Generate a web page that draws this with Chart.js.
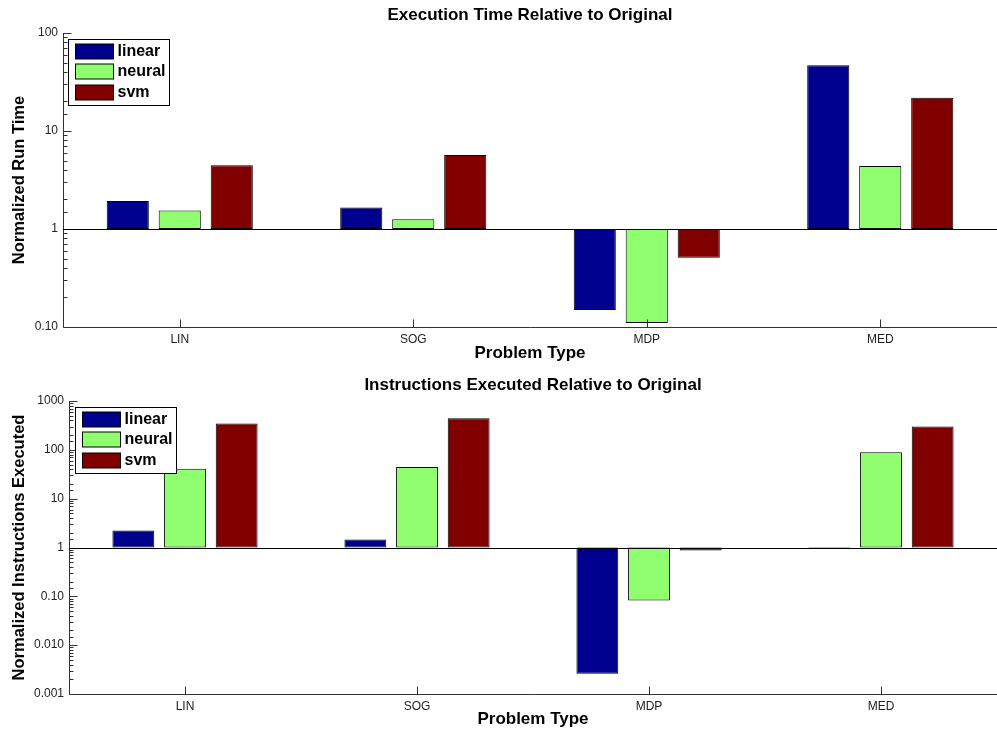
<!DOCTYPE html>
<html>
<head>
<meta charset="utf-8">
<script src="https://cdn.jsdelivr.net/npm/chart.js@4"></script>
<style>
body { margin: 0; background: #fff; }
.pannello { position: absolute; left: 0; width: 997px; height: 370px; }
</style>
</head>
<body>
<div class="pannello" style="top:0"><canvas id="grafico-tempo" width="997" height="370"></canvas></div>
<div class="pannello" style="top:370px"><canvas id="grafico-istruzioni" width="997" height="370"></canvas></div>
<script>
// Categorie e serie
const problemi = ['LIN', 'SOG', 'MDP', 'MED'];
const metodi = ['linear', 'neural', 'svm'];
const colori = ['#00008f', '#8fff70', '#800000'];

// Tempo di esecuzione relativo all'originale
const tempoLinear = [1.93, 1.66, 0.149, 46.8];
const tempoNeural = [1.54, 1.26, 0.11, 4.4];
const tempoSvm = [4.47, 5.69, 0.51, 21.9];

// Istruzioni eseguite relative all'originale
const istrLinear = [2.22, 1.46, 0.0026, 0.98];
const istrNeural = [41, 44.6, 0.082, 89];
const istrSvm = [345, 445, 0.87, 300];

// Tick dell'asse y
const tickTempo = [0.1, 1, 10, 100];
const etichetteTempo = ['0.10', '1', '10', '100'];
const tickIstr = [0.001, 0.01, 0.1, 1, 10, 100, 1000];
const etichetteIstr = ['0.001', '0.010', '0.10', '1', '10', '100', '1000'];

const FONT = '"Liberation Sans", Arial, Helvetica, sans-serif';

// Assi in stile MATLAB: tick verso l'interno, linea di base a 1, legenda nel riquadro
const assiMatlab = {
    id: 'assiMatlab',
    afterDatasetsDraw(chart, args, opz) {
        const { ctx, chartArea: a, scales: { x, y } } = chart;
        ctx.save();
        ctx.lineWidth = 1;
        ctx.strokeStyle = '#333';
        const xl = Math.round(a.left) + 0.5;
        const yb = Math.round(a.bottom) + 0.5;
        ctx.beginPath();
        ctx.moveTo(xl, Math.round(a.top));
        ctx.lineTo(xl, yb);
        ctx.lineTo(a.right, yb);
        y.ticks.forEach(t => {
            const py = Math.round(y.getPixelForValue(t.value)) + 0.5;
            const e = Math.log10(t.value);
            const lung = Math.abs(e - Math.round(e)) < 1e-6 ? 8 : 4;
            ctx.moveTo(xl, py);
            ctx.lineTo(xl + lung, py);
        });
        x.ticks.forEach((t, i) => {
            const px = Math.round(x.getPixelForTick(i)) + 0.5;
            ctx.moveTo(px, yb);
            ctx.lineTo(px, yb - 8);
        });
        ctx.stroke();

        // linea di base
        const y1 = Math.round(y.getPixelForValue(1)) + 0.5;
        ctx.strokeStyle = '#000';
        ctx.beginPath();
        ctx.moveTo(a.left, y1);
        ctx.lineTo(a.right, y1);
        ctx.stroke();

        // legenda
        const bx = Math.round(a.left + opz.dx) + 0.5;
        const by = Math.round(a.top + opz.dy) + 0.5;
        ctx.fillStyle = '#fff';
        ctx.fillRect(bx, by, 101, 66);
        ctx.strokeStyle = '#000';
        ctx.strokeRect(bx, by, 101, 66);
        ctx.font = 'bold 16px ' + FONT;
        ctx.textBaseline = 'middle';
        chart.data.datasets.forEach((d, i) => {
            const sy = by + 4 + i * 20.5;
            ctx.fillStyle = d.backgroundColor;
            ctx.fillRect(bx + 7, Math.round(sy), 38, 15);
            ctx.strokeStyle = '#000';
            ctx.strokeRect(bx + 7, Math.round(sy), 38, 15);
            ctx.fillStyle = '#000';
            ctx.fillText(d.label, bx + 49, sy + 8);
        });
        ctx.restore();
    }
};

function creaGrafico(id, titolo, titoloY, valori, tickValori, tickTesti, opz) {
    new Chart(document.getElementById(id), {
        type: 'bar',
        data: {
            labels: problemi,
            datasets: metodi.map((m, i) => ({
                label: m,
                data: valori[i].map(v => [1, v]),
                backgroundColor: colori[i],
                borderColor: '#000',
                borderWidth: 1,
                borderSkipped: false,
                categoryPercentage: 0.668,
                barPercentage: 0.81
            }))
        },
        options: {
            responsive: false,
            animation: false,
            layout: { padding: 0 },
            plugins: {
                legend: { display: false },
                tooltip: { enabled: false },
                title: {
                    display: true,
                    text: titolo,
                    fullSize: false,
                    color: '#000',
                    font: { family: FONT, size: 17, weight: 'bold' },
                    padding: opz.padTitolo
                },
                assiMatlab: { dx: opz.legX, dy: opz.legY }
            },
            scales: {
                x: {
                    grid: { display: false, drawTicks: false },
                    border: { display: false },
                    ticks: { color: '#222', font: { family: FONT, size: 12 }, padding: 5, maxRotation: 0 },
                    title: {
                        display: true,
                        text: 'Problem Type',
                        color: '#000',
                        font: { family: FONT, size: 17, weight: 'bold' },
                        padding: { top: 0, bottom: opz.padTitoloX }
                    },
                    afterFit: s => { s.height = opz.altezzaX; }
                },
                y: {
                    type: 'logarithmic',
                    min: tickValori[0],
                    max: tickValori[tickValori.length - 1],
                    grid: { display: false, drawTicks: false },
                    border: { display: false },
                    ticks: {
                        autoSkip: false,
                        color: '#222',
                        font: { family: FONT, size: 12 },
                        padding: 5,
                        callback: v => {
                            const i = tickValori.findIndex(t => Math.abs(t - v) < t * 1e-6);
                            return i >= 0 ? tickTesti[i] : '';
                        }
                    },
                    title: {
                        display: true,
                        text: titoloY,
                        color: '#000',
                        font: { family: FONT, size: 16.5, weight: 'bold' },
                        padding: { top: 10, bottom: 0 }
                    },
                    afterFit: s => { s.width = opz.larghezzaY; }
                }
            }
        },
        plugins: [assiMatlab]
    });
}

creaGrafico('grafico-tempo', 'Execution Time Relative to Original', 'Normalized Run Time',
    [tempoLinear, tempoNeural, tempoSvm], tickTempo, etichetteTempo,
    { padTitolo: { top: 5, bottom: 7.6 }, altezzaX: 43, padTitoloX: 6, larghezzaY: 63, legX: 5, legY: 6 });

creaGrafico('grafico-istruzioni', 'Instructions Executed Relative to Original', 'Normalized Instructions Executed',
    [istrLinear, istrNeural, istrSvm], tickIstr, etichetteIstr,
    { padTitolo: { top: 5, bottom: 5.6 }, altezzaX: 46, padTitoloX: 10, larghezzaY: 69, legX: 6, legY: 6 });
</script>
</body>
</html>
